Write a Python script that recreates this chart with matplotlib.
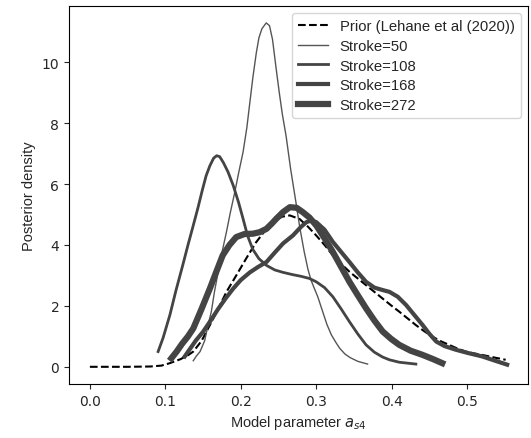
import matplotlib
matplotlib.use("Agg")
import matplotlib.pyplot as plt
import numpy as np

# posterior densities
prior_x = [0.0, 0.05, 0.08, 0.095, 0.106, 0.12, 0.13, 0.137, 0.148, 0.159, 0.170, 0.181,
           0.194, 0.207, 0.220, 0.234, 0.245, 0.255, 0.265, 0.278, 0.289, 0.300, 0.311,
           0.322, 0.333, 0.344, 0.355, 0.366, 0.377, 0.388, 0.399, 0.410, 0.421, 0.432,
           0.443, 0.454, 0.465, 0.476, 0.487, 0.498, 0.509, 0.520, 0.535, 0.551]
prior_y = [0.0, 0.0, 0.01, 0.04, 0.12, 0.25, 0.38, 0.5, 0.85, 1.37, 1.9, 2.46,
           3.0, 3.55, 4.08, 4.53, 4.8, 4.93, 4.97, 4.85, 4.6, 4.31, 4.0,
           3.66, 3.38, 3.12, 2.9, 2.68, 2.46, 2.24, 2.02, 1.81, 1.59, 1.37,
           1.17, 0.99, 0.84, 0.72, 0.6, 0.50, 0.44, 0.39, 0.31, 0.23]

s50_x = [0.137, 0.141, 0.146, 0.152, 0.156, 0.161, 0.165, 0.170, 0.175, 0.181, 0.186,
         0.192, 0.197, 0.203, 0.208, 0.212, 0.216, 0.2205, 0.224, 0.228, 0.2337, 0.238,
         0.242, 0.247, 0.251, 0.255, 0.260, 0.266, 0.273, 0.278, 0.284, 0.289, 0.293,
         0.297, 0.302, 0.308, 0.314, 0.320, 0.326, 0.331, 0.338, 0.345, 0.355, 0.368]
s50_y = [0.2, 0.35, 0.5, 0.85, 1.3, 1.82, 2.45, 3.12, 3.75, 4.43, 5.05,
         5.73, 6.35, 7.05, 7.85, 8.68, 9.5, 10.3, 10.8, 11.1, 11.29, 11.2,
         10.75, 9.76, 9.0, 8.3, 7.58, 6.5, 5.41, 4.6, 3.78, 3.2, 2.85,
         2.6, 2.3, 1.85, 1.4, 1.05, 0.8, 0.61, 0.42, 0.3, 0.18, 0.09]

s108_x = [0.0904, 0.097, 0.106, 0.114, 0.123, 0.130, 0.136, 0.143, 0.149, 0.154, 0.159,
          0.164, 0.168, 0.172, 0.177, 0.183, 0.190, 0.197, 0.203, 0.209, 0.216, 0.224,
          0.234, 0.245, 0.256, 0.268, 0.280, 0.291, 0.300, 0.311, 0.322, 0.333, 0.344,
          0.355, 0.366, 0.377, 0.388, 0.397, 0.410, 0.432]
s108_y = [0.5, 0.95, 1.7, 2.5, 3.33, 4.0, 4.55, 5.2, 5.8, 6.27, 6.6,
          6.85, 6.93, 6.9, 6.7, 6.4, 5.95, 5.4, 4.86, 4.3, 3.85, 3.55,
          3.33, 3.18, 3.1, 3.03, 2.97, 2.9, 2.79, 2.6, 2.3, 1.9, 1.48,
          1.08, 0.72, 0.48, 0.32, 0.23, 0.15, 0.09]

s168_x = [0.1257, 0.133, 0.140, 0.150, 0.159, 0.170, 0.180, 0.190, 0.200, 0.212, 0.223,
          0.234, 0.245, 0.256, 0.269, 0.280, 0.287, 0.293, 0.300, 0.311, 0.322, 0.333,
          0.344, 0.355, 0.366, 0.377, 0.388, 0.397, 0.408, 0.419, 0.430, 0.441, 0.450,
          0.459, 0.470, 0.485, 0.500, 0.520, 0.537, 0.553]
s168_y = [0.34, 0.6, 0.85, 1.15, 1.48, 1.9, 2.25, 2.57, 2.85, 3.1, 3.28,
          3.44, 3.75, 4.05, 4.31, 4.6, 4.75, 4.8, 4.75, 4.5, 4.1, 3.77,
          3.44, 3.1, 2.79, 2.6, 2.52, 2.46, 2.3, 2.03, 1.7, 1.37, 1.08,
          0.83, 0.68, 0.56, 0.46, 0.34, 0.2, 0.07]

s272_x = [0.108, 0.115, 0.122, 0.130, 0.137, 0.148, 0.159, 0.168, 0.176, 0.185, 0.194,
          0.205, 0.216, 0.225, 0.234, 0.241, 0.247, 0.256, 0.265, 0.274, 0.282, 0.291,
          0.300, 0.311, 0.322, 0.333, 0.344, 0.355, 0.366, 0.377, 0.388, 0.399, 0.410,
          0.425, 0.441, 0.455, 0.467]
s272_y = [0.28, 0.5, 0.75, 1.0, 1.26, 1.9, 2.57, 3.15, 3.66, 4.0, 4.26,
          4.36, 4.37, 4.42, 4.53, 4.7, 4.86, 5.08, 5.24, 5.22, 5.08, 4.9,
          4.64, 4.22, 3.77, 3.28, 2.79, 2.35, 1.92, 1.52, 1.16, 0.92, 0.72,
          0.53, 0.39, 0.25, 0.12]

labels = ["Prior (Lehane et al (2020))", "Stroke=50", "Stroke=108", "Stroke=168", "Stroke=272"]
widths = [1.0, 2.0, 3.0, 4.5]
colors = ["#555555", "#444444", "#444444", "#444444"]

fig = plt.figure(figsize=(5.31, 4.39), dpi=100)
ax = fig.add_axes([0.130, 0.123, 0.8644, 0.8617])

ax.plot(prior_x, prior_y, "k--", lw=1.5, label=labels[0])
ax.plot(s50_x, s50_y, color=colors[0], lw=widths[0], label=labels[1])
ax.plot(s108_x, s108_y, color=colors[1], lw=widths[1], label=labels[2])
ax.plot(s168_x, s168_y, color=colors[2], lw=widths[2], label=labels[3])
ax.plot(s272_x, s272_y, color=colors[3], lw=widths[3], label=labels[4])

ax.set_xticks([0.0, 0.1, 0.2, 0.3, 0.4, 0.5])
ax.set_yticks([0, 2, 4, 6, 8, 10])
ax.tick_params(labelsize=10, colors="#262626")
for sp in ax.spines.values():
    sp.set_color("black")

ax.set_xlabel("Model parameter $a_{s4}$", fontsize=10.5, family="Liberation Sans", color="#262626")
ax.set_ylabel("Posterior density", fontsize=10.5, family="Liberation Sans", color="#262626")

leg = ax.legend(loc="upper right", prop={"family": "Liberation Sans", "size": 10.7},
                labelspacing=0.39)
for t in leg.get_texts():
    t.set_color("#262626")

fig.savefig("out.png", dpi=100)
